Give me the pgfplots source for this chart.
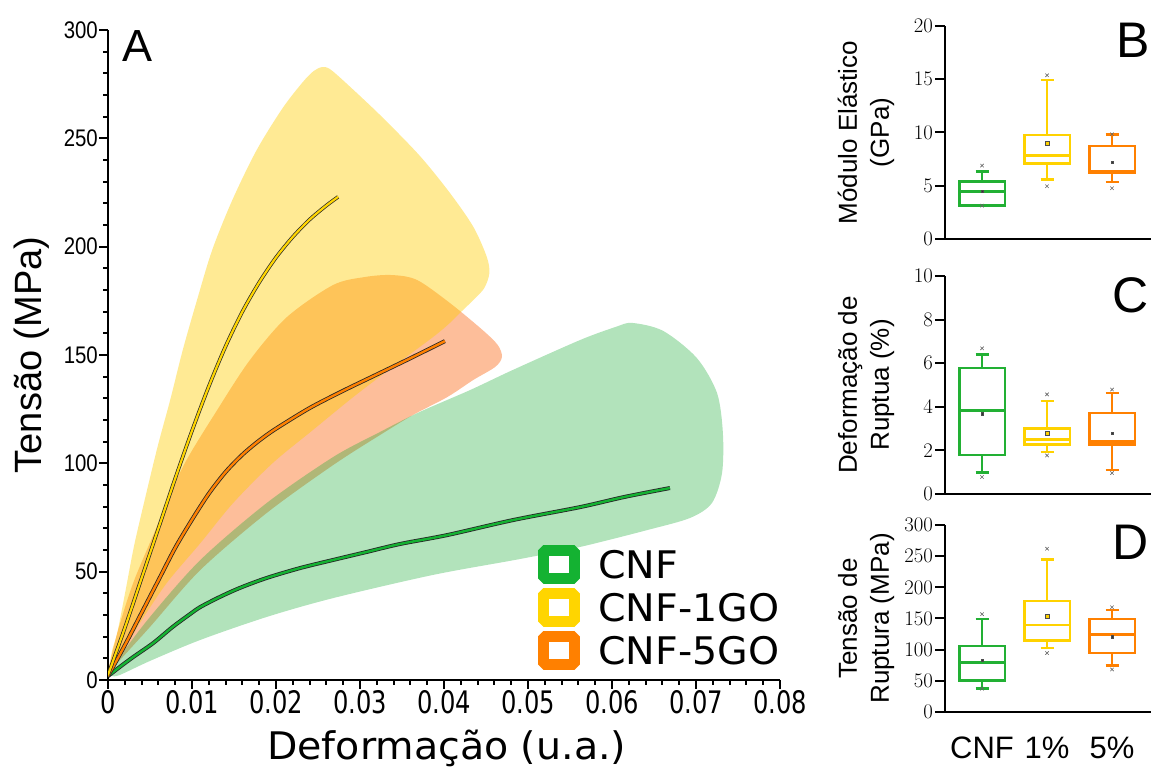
\documentclass[border=0pt]{standalone}
\usepackage{fontspec}
\setmainfont{Liberation Sans}
\newfontfamily\verd[FakeStretch=1.04]{DejaVu Sans}
\newfontfamily\verdnarrow[FakeStretch=0.78]{DejaVu Sans}
\newfontfamily\arialnarrow[FakeStretch=0.85]{Liberation Sans}
\usepackage{pgfplots}
\usepackage{pgfplotstable}
\pgfplotsset{compat=1.18}

\definecolor{lgG}{RGB}{20,178,50}
\definecolor{lgY}{RGB}{255,213,0}
\definecolor{lgO}{RGB}{255,128,0}
\definecolor{bandG}{RGB}{20,170,50}
\definecolor{bandY}{RGB}{255,205,0}
\definecolor{bandO}{RGB}{250,110,30}
\definecolor{bxG}{RGB}{34,176,52}
\definecolor{bxY}{RGB}{255,210,0}
\definecolor{bxO}{RGB}{255,128,0}

% ---- spread of the stress-strain curves (closed outlines) ----
\pgfplotstableread{
x y
0      2.8
0.0005 13.8
0.0011 21.7
0.0021 41.5
0.0030 60.0
0.0038 73.8
0.0058 106.1
0.0074 129.2
0.0089 152.3
0.0106 175.4
0.0124 198.4
0.0148 221.5
0.0177 244.6
0.0208 264.0
0.0232 276.0
0.0245 281.1
0.0255 282.9
0.0264 282.0
0.0282 276.0
0.0324 260.7
0.0371 242.0
0.0407 224.8
0.0435 209.1
0.0451 195.2
0.0454 187.8
0.0448 180.9
0.0435 175.4
0.0419 169.4
0.0407 164.8
0.0387 158.3
0.0339 144.5
0.0292 130.6
0.0244 115.4
0.0196 100.1
0.0149 81.7
0.0110 63.2
0.0070 44.8
0.0038 26.3
0.0014 10.6
0.0002 4.2
}\bandYtab

\pgfplotstableread{
x y
0      3.7
0.0011 21.7
0.0030 44.8
0.0058 70.6
0.0089 98.3
0.0130 124.6
0.0169 147.7
0.0213 167.5
0.0268 182.3
0.0306 186.0
0.0338 186.9
0.0368 184.6
0.0407 174.0
0.0446 161.5
0.0464 154.6
0.0469 149.1
0.0461 144.5
0.0435 138.5
0.0404 130.6
0.0363 122.3
0.0324 113.1
0.0268 99.2
0.0189 77.1
0.0110 50.8
0.0050 24.5
0.0011 7.8
0.0002 3.7
}\bandOtab

\pgfplotstableread{
x y
0.0002 3.2
0.0011 9.2
0.0050 29.1
0.0110 55.4
0.0189 81.7
0.0268 102.9
0.0324 114.5
0.0371 123.7
0.0431 133.8
0.0482 143.1
0.0562 156.9
0.0604 162.9
0.0624 164.8
0.0661 161.1
0.0701 148.6
0.0725 132.5
0.0732 114.0
0.0731 95.5
0.0719 81.7
0.0693 74.8
0.0642 69.2
0.0562 61.4
0.0490 55.8
0.0387 48.5
0.0268 37.8
0.0189 29.1
0.0110 18.5
0.0050 8.8
0.0014 2.3
0.0005 1.8
}\bandGtab

% ---- mean stress-strain curves ----
\pgfplotstableread{
x y
0      2.3
0.0020 24.0
0.0040 47.0
0.0060 70.0
0.0080 93.0
0.0100 115.0
0.0120 135.5
0.0140 154.0
0.0160 170.0
0.0180 183.5
0.0200 195.0
0.0220 204.5
0.0240 212.5
0.0260 219.0
0.0274 223.0
}\curveY

\pgfplotstableread{
x y
0      1.8
0.0020 16.0
0.0040 31.0
0.0060 46.0
0.0080 61.0
0.0100 74.0
0.0120 86.0
0.0140 96.0
0.0160 104.0
0.0180 110.5
0.0200 116.0
0.0240 125.5
0.0280 133.5
0.0320 141.0
0.0360 148.5
0.0401 156.4
}\curveO

\pgfplotstableread{
x y
0      1.8
0.0014 6.0
0.0030 10.6
0.0054 17.1
0.0077 24.5
0.0098 30.5
0.0110 33.7
0.0133 38.3
0.0157 42.5
0.0189 47.1
0.0229 51.7
0.0268 55.4
0.0308 59.1
0.0348 62.8
0.0404 66.9
0.0482 73.8
0.0562 79.8
0.0615 84.5
0.0669 88.6
}\curveG

\pgfplotsset{
  boxaxis/.style={
    scale only axis, width=206pt,
    xmin=0.43, xmax=3.6, xtick=\empty,
    axis lines=left, axis line style={-, line width=2.6pt},
    tick align=outside, major tick length=10pt,
    tick style={black, line width=2pt},
    yticklabel style={font=\fontsize{20}{22}\selectfont, inner sep=2pt},
    ylabel style={at={(rel axis cs:-0.383,0.5)}, anchor=center, align=center,
      font=\fontsize{26}{32}\selectfont},
    unbounded coords=jump,
    clip=false,
  },
  boxline/.style={draw=#1, line width=2.5pt, mark=none},
  meanmk/.style={only marks, mark=square*, mark size=1.3pt,
      mark options={fill=#1, draw=black!70, line width=0.4pt}},
  extmk/.style={only marks, mark=x, mark size=2.4pt,
      mark options={draw=black!60, line width=0.6pt}},
  legbox/.style={legend image code/.code={
      \path[draw=none, fill=none] (0pt,-19.5pt) rectangle (60pt,19.5pt);
      \draw[draw=#1, line width=11pt, line join=bevel, fill=white]
        (5.5pt,-14pt) rectangle (36.5pt,14pt);}},
}

\begin{document}
\begin{tikzpicture}
\useasboundingbox (0,0) rectangle (1151pt,767pt);

% ===== A: stress-strain =====
\begin{axis}[
  at={(108pt,87pt)}, anchor=south west, scale only axis,
  width=672pt, height=650pt,
  xmin=0, xmax=0.08, ymin=0, ymax=300,
  axis lines=left, axis line style={-, line width=2.6pt},
  xtick={0,0.01,0.02,0.03,0.04,0.05,0.06,0.07,0.08},
  ytick={0,50,100,150,200,250,300},
  minor x tick num=4, minor y tick num=4,
  tick align=outside, major tick length=9pt, minor tick length=5pt,
  tick style={black, line width=2pt},
  scaled x ticks=false,
  /pgf/number format/assume math mode=true,
  xticklabel style={font=\verdnarrow\fontsize{31}{33}\selectfont, inner sep=1pt,
    /pgf/number format/fixed, /pgf/number format/precision=2},
  yticklabel style={font=\arialnarrow\fontsize{24}{26}\selectfont, inner sep=1pt},
  xlabel={Deformação (u.a.)},
  xlabel style={at={(rel axis cs:0.504,0)}, anchor=base, yshift=-80pt,
    font=\verd\fontsize{38}{40}\selectfont},
  ylabel={Tensão (MPa)},
  ylabel style={at={(rel axis cs:-0.113,0.5)}, anchor=center,
    font=\fontsize{38}{40}\selectfont},
  legend style={at={(0.64,0.2077)}, anchor=north west, draw=none, fill=none,
    inner sep=0pt, row sep=4pt, font=\verd\fontsize{38}{40}\selectfont,
    nodes={inner sep=0pt}},
  legend cell align=left,
]
\addplot[smooth, fill=bandO, fill opacity=0.45, draw=none, forget plot] table {\bandOtab} -- cycle;
\addplot[smooth, fill=bandY, fill opacity=0.42, draw=none, forget plot] table {\bandYtab} -- cycle;
\addplot[smooth, fill=bandG, fill opacity=0.33, draw=none, forget plot] table {\bandGtab} -- cycle;

\addplot[smooth, black!85, line width=4pt, forget plot] table {\curveG};
\addplot[smooth, lgG, line width=2.4pt, forget plot] table {\curveG};
\addplot[smooth, black!85, line width=4pt, forget plot] table {\curveO};
\addplot[smooth, lgO, line width=2.4pt, forget plot] table {\curveO};
\addplot[smooth, black!85, line width=3.6pt, forget plot] table {\curveY};
\addplot[smooth, lgY, line width=2.2pt, forget plot] table {\curveY};

\addlegendimage{legbox=lgG}
\addlegendentry{CNF}
\addlegendimage{legbox=lgY}
\addlegendentry{CNF-1GO}
\addlegendimage{legbox=lgO}
\addlegendentry{CNF-5GO}

\node[anchor=north west, inner sep=0pt, font=\fontsize{45}{45}\selectfont]
  at (rel axis cs:0.022,1) {A};
\end{axis}

% ===== B: elastic modulus =====
% each group: box (quartiles), then median + whiskers with caps
\begin{axis}[boxaxis, at={(945pt,528pt)}, anchor=south west, height=213pt,
  ymin=0, ymax=20, ytick={0,5,10,15,20},
  ylabel={Módulo Elástico\\(GPa)}]
\addplot[boxline=bxG] coordinates {(0.65,3.13) (1.35,3.13) (1.35,5.38) (0.65,5.38)} -- cycle;
\addplot[boxline=bxG] coordinates {(0.65,4.48) (1.35,4.48) (nan,nan) (1,5.38) (1,6.32) (nan,nan) (0.9,6.32) (1.1,6.32) (nan,nan) (1,3.13) (1,3.10) (nan,nan) (0.9,3.10) (1.1,3.10)};
\addplot[boxline=bxY] coordinates {(1.65,7.10) (2.35,7.10) (2.35,9.77) (1.65,9.77)} -- cycle;
\addplot[boxline=bxY] coordinates {(1.65,7.86) (2.35,7.86) (nan,nan) (2,9.77) (2,14.93) (nan,nan) (1.9,14.93) (2.1,14.93) (nan,nan) (2,7.10) (2,5.60) (nan,nan) (1.9,5.60) (2.1,5.60)};
\addplot[boxline=bxO] coordinates {(2.65,6.23) (3.35,6.23) (3.35,8.73) (2.65,8.73)} -- cycle;
\addplot[boxline=bxO] coordinates {(2.65,6.38) (3.35,6.38) (nan,nan) (3,8.73) (3,9.83) (nan,nan) (2.9,9.83) (3.1,9.83) (nan,nan) (3,6.23) (3,5.35) (nan,nan) (2.9,5.35) (3.1,5.35)};
\addplot[extmk] coordinates {(1,6.89) (1,3.13) (2,15.37) (2,4.95) (3,9.83) (3,4.76)};
\addplot[meanmk=black!80] coordinates {(1,4.48) (3,7.2)};
\addplot[meanmk=bxY, mark size=2pt] coordinates {(2,8.95)};
\node[anchor=north east, inner sep=0pt, font=\fontsize{50}{50}\selectfont]
  at (rel axis cs:0.995,1.014) {B};
\end{axis}

% ===== C: strain at break =====
\begin{axis}[boxaxis, at={(945pt,273pt)}, anchor=south west, height=218pt,
  ymin=0, ymax=10, ytick={0,2,4,6,8,10},
  ylabel={Deformação de\\Ruptua (\%)}]
\addplot[boxline=bxG] coordinates {(0.65,1.80) (1.35,1.80) (1.35,5.78) (0.65,5.78)} -- cycle;
\addplot[boxline=bxG] coordinates {(0.65,3.82) (1.35,3.82) (nan,nan) (1,5.78) (1,6.39) (nan,nan) (0.9,6.39) (1.1,6.39) (nan,nan) (1,1.80) (1,0.99) (nan,nan) (0.9,0.99) (1.1,0.99)};
\addplot[boxline=bxY] coordinates {(1.65,2.27) (2.35,2.27) (2.35,3.00) (1.65,3.00)} -- cycle;
\addplot[boxline=bxY] coordinates {(1.65,2.51) (2.35,2.51) (nan,nan) (2,3.00) (2,4.26) (nan,nan) (1.9,4.26) (2.1,4.26) (nan,nan) (2,2.27) (2,1.93) (nan,nan) (1.9,1.93) (2.1,1.93)};
\addplot[boxline=bxO] coordinates {(2.65,2.28) (3.35,2.28) (3.35,3.71) (2.65,3.71)} -- cycle;
\addplot[boxline=bxO] coordinates {(2.65,2.40) (3.35,2.40) (nan,nan) (3,3.71) (3,4.64) (nan,nan) (2.9,4.64) (3.1,4.64) (nan,nan) (3,2.28) (3,1.11) (nan,nan) (2.9,1.11) (3.1,1.11)};
\addplot[extmk] coordinates {(1,6.68) (1,0.78) (2,4.57) (2,1.77) (3,4.79) (3,0.96)};
\addplot[meanmk=black!80] coordinates {(1,3.68) (3,2.79)};
\addplot[meanmk=bxY, mark size=2pt] coordinates {(2,2.80)};
\node[anchor=north east, inner sep=0pt, font=\fontsize{50}{50}\selectfont]
  at (rel axis cs:0.99,0.995) {C};
\end{axis}

% ===== D: tensile strength =====
\begin{axis}[boxaxis, at={(945pt,55pt)}, anchor=south west, height=187pt,
  ymin=0, ymax=300, ytick={0,50,100,150,200,250,300},
  ylabel={Tensão de\\Ruptura (MPa)}]
\addplot[boxline=bxG] coordinates {(0.65,50.7) (1.35,50.7) (1.35,105.7) (0.65,105.7)} -- cycle;
\addplot[boxline=bxG] coordinates {(0.65,79.6) (1.35,79.6) (nan,nan) (1,105.7) (1,149) (nan,nan) (0.9,149) (1.1,149) (nan,nan) (1,50.7) (1,37.4) (nan,nan) (0.9,37.4) (1.1,37.4)};
\addplot[boxline=bxY] coordinates {(1.65,114.8) (2.35,114.8) (2.35,177.8) (1.65,177.8)} -- cycle;
\addplot[boxline=bxY] coordinates {(1.65,139.3) (2.35,139.3) (nan,nan) (2,177.8) (2,245) (nan,nan) (1.9,245) (2.1,245) (nan,nan) (2,114.8) (2,102.5) (nan,nan) (1.9,102.5) (2.1,102.5)};
\addplot[boxline=bxO] coordinates {(2.65,95.0) (3.35,95.0) (3.35,149.5) (2.65,149.5)} -- cycle;
\addplot[boxline=bxO] coordinates {(2.65,124.4) (3.35,124.4) (nan,nan) (3,149.5) (3,164) (nan,nan) (2.9,164) (3.1,164) (nan,nan) (3,95.0) (3,74.2) (nan,nan) (2.9,74.2) (3.1,74.2)};
\addplot[extmk] coordinates {(1,157) (1,37.4) (2,262) (2,94.5) (3,168) (3,68.3)};
\addplot[meanmk=black!80] coordinates {(1,82.8) (3,120.7)};
\addplot[meanmk=bxY, mark size=2pt] coordinates {(2,154.3)};
\node[anchor=north east, inner sep=0pt, font=\fontsize{50}{50}\selectfont]
  at (rel axis cs:0.99,1.0) {D};
% group names under the boxes
\node[anchor=north, inner sep=0pt, font=\fontsize{31}{33}\selectfont, yshift=-25pt]
  at (axis cs:1,0) {CNF};
\node[anchor=north, inner sep=0pt, font=\fontsize{31}{33}\selectfont, yshift=-25pt]
  at (axis cs:2,0) {1\%};
\node[anchor=north, inner sep=0pt, font=\fontsize{31}{33}\selectfont, yshift=-25pt]
  at (axis cs:3,0) {5\%};
\end{axis}
\end{tikzpicture}
\end{document}
